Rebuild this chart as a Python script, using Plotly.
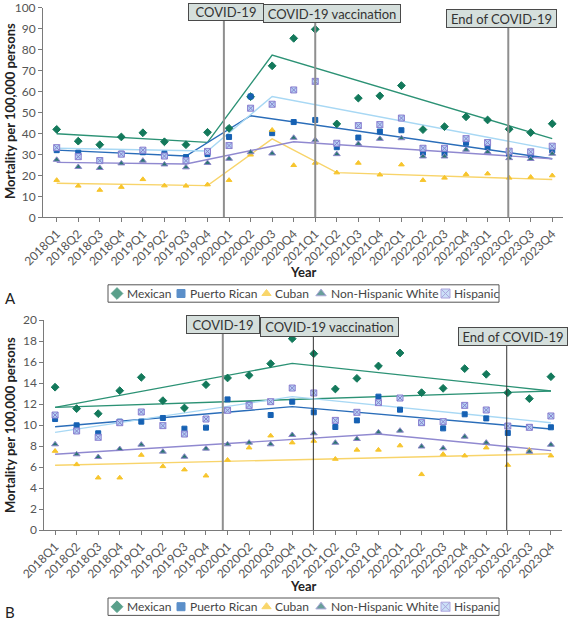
import plotly.graph_objects as go

W, H = 568, 621
FONT = "Lato, 'Open Sans', sans-serif"

QUARTERS = [
    "2018Q1", "2018Q2", "2018Q3", "2018Q4",
    "2019Q1", "2019Q2", "2019Q3", "2019Q4",
    "2020Q1", "2020Q2", "2020Q3", "2020Q4",
    "2021Q1", "2021Q2", "2021Q3", "2021Q4",
    "2022Q1", "2022Q2", "2022Q3", "2022Q4",
    "2023Q1", "2023Q2", "2023Q3", "2023Q4",
]
GROUPS = ["Mexican", "Puerto Rican", "Cuban", "Non-Hispanic White", "Hispanic"]

# Panel A - quarterly mortality per 100,000
MEXICAN_A = [41.9, 36.3, 34.6, 38.3, 40.3, 36.0, 34.6, 40.5, 42.4, 57.5, 72.2, 85.3,
             89.6, 44.5, 56.8, 57.9, 62.8, 41.8, 43.2, 47.9, 46.4, 42.0, 40.4, 44.6]
PUERTO_RICAN_A = [32.0, 30.8, 27.2, 30.3, 31.0, 30.3, 28.7, 30.1, 38.3, 57.6, 40.1, 45.4,
                  46.4, 33.4, 38.0, 40.9, 41.5, 30.8, 30.4, 35.5, 33.4, 30.3, 29.8, 31.9]
CUBAN_A = [17.7, 15.0, 13.0, 14.4, 18.1, 15.1, 15.0, 15.6, 17.7, 29.8, 41.6, 24.8,
           25.9, 21.3, 25.9, 20.3, 25.1, 17.7, 18.8, 20.5, 20.8, 18.8, 19.2, 19.9]
NHW_A = [27.4, 24.0, 23.5, 25.7, 27.0, 25.2, 23.8, 25.9, 27.9, 31.0, 30.4, 37.9,
         36.8, 30.1, 35.0, 37.4, 37.7, 29.0, 29.0, 32.2, 31.1, 28.2, 27.8, 30.3]
HISPANIC_A = [33.2, 28.9, 27.0, 30.1, 32.0, 29.2, 27.0, 31.4, 34.2, 52.0, 53.9, 60.7,
              64.8, 35.3, 43.7, 44.2, 47.3, 32.9, 32.9, 37.5, 35.6, 31.5, 31.2, 33.9]

# Panel B
MEXICAN_B = [13.60, 11.56, 11.08, 13.27, 14.54, 12.32, 11.62, 13.84, 14.48, 14.73, 15.84, 18.22,
             16.79, 13.43, 14.44, 15.62, 16.86, 13.08, 13.49, 15.37, 14.83, 13.08, 12.51, 14.60]
PUERTO_RICAN_B = [10.57, 9.97, 9.21, 10.32, 10.32, 10.67, 9.65, 9.75, 12.44, 11.94, 10.95, 12.22,
                  11.21, 9.81, 10.44, 12.70, 11.46, 10.20, 9.68, 11.02, 10.63, 9.24, 9.80, 9.78]
CUBAN_B = [7.52, 6.25, 4.98, 4.98, 7.14, 6.06, 5.75, 5.17, 6.67, 7.84, 8.98, 8.32,
           8.48, 6.76, 7.63, 7.63, 8.04, 5.30, 7.22, 7.08, 7.84, 6.19, 7.62, 7.08]
NHW_B = [8.16, 7.21, 6.95, 7.71, 8.13, 7.46, 6.98, 7.75, 8.16, 8.32, 8.16, 9.05,
         9.21, 8.31, 8.67, 9.30, 9.46, 7.95, 7.78, 8.89, 8.32, 7.68, 7.46, 8.12]
HISPANIC_B = [10.95, 9.43, 8.83, 10.22, 11.24, 9.94, 9.14, 10.57, 11.40, 11.87, 12.22, 13.52,
              13.05, 10.44, 11.21, 12.13, 12.57, 10.22, 10.32, 11.87, 11.43, 9.90, 9.78, 10.86]

# Joinpoint trend lines: knot quarters and fitted values
MEX_A_TREND_Q = ["2018Q1", "2019Q4", "2020Q3", "2023Q4"]
MEX_A_TREND = [39.8, 35.7, 77.3, 37.5]
PR_A_TREND_Q = ["2018Q1", "2019Q3", "2020Q2", "2023Q4"]
PR_A_TREND = [32.0, 29.2, 48.4, 27.9]
CUB_A_TREND_Q = ["2018Q1", "2019Q4", "2020Q3", "2021Q2", "2023Q4"]
CUB_A_TREND = [16.2, 15.1, 37.4, 21.3, 18.0]
NHW_A_TREND_Q = ["2018Q1", "2019Q3", "2020Q4", "2023Q4"]
NHW_A_TREND = [26.2, 25.4, 36.0, 27.9]
HIS_A_TREND_Q = ["2018Q1", "2019Q4", "2020Q3", "2023Q4"]
HIS_A_TREND = [32.9, 31.6, 57.6, 32.3]

MEX_B_TREND_Q = ["2018Q1", "2020Q4", "2023Q4"]
MEX_B_TREND = [11.68, 15.87, 13.24]
MEX_B_LINEAR_Q = ["2018Q1", "2023Q4"]
MEX_B_LINEAR = [11.68, 13.24]
PR_B_TREND_Q = ["2018Q1", "2020Q4", "2023Q4"]
PR_B_TREND = [9.84, 11.75, 9.62]
CUB_B_TREND_Q = ["2018Q1", "2023Q4"]
CUB_B_TREND = [6.16, 7.26]
NHW_B_TREND_Q = ["2018Q1", "2021Q4", "2023Q4"]
NHW_B_TREND = [7.21, 9.14, 7.56]
HIS_B_TREND_Q = ["2018Q1", "2020Q4", "2023Q4"]
HIS_B_TREND = [9.30, 12.70, 10.22]

EVENTS = ["COVID-19", "COVID-19 vaccination", "End of COVID-19"]

STYLE = {
    "Mexican": dict(symbol="diamond", size=6, color="#13795b", edge="#13795b", trend="#2c9275"),
    "Puerto Rican": dict(symbol="square", size=5, color="#1661b3", edge="#1661b3", trend="#2a6db9"),
    "Cuban": dict(symbol="triangle-up", size=5, color="#f7c52c", edge="#f7c52c", trend="#f8d46a"),
    "Non-Hispanic White": dict(symbol="triangle-up", size=6, color="#2b7772", edge="#8c86c9", trend="#9089d0"),
    "Hispanic": dict(symbol="square-x", size=6, color="#b4d4f4", edge="#8a7fcf", trend="#a8d8f4"),
}

PANELS = [
    dict(
        xa="x", ya="y",
        values=[MEXICAN_A, PUERTO_RICAN_A, CUBAN_A, NHW_A, HISPANIC_A],
        trends=[("Mexican", MEX_A_TREND_Q, MEX_A_TREND), ("Puerto Rican", PR_A_TREND_Q, PR_A_TREND),
                ("Cuban", CUB_A_TREND_Q, CUB_A_TREND), ("Non-Hispanic White", NHW_A_TREND_Q, NHW_A_TREND),
                ("Hispanic", HIS_A_TREND_Q, HIS_A_TREND)],
    ),
    dict(
        xa="x2", ya="y2",
        values=[MEXICAN_B, PUERTO_RICAN_B, CUBAN_B, NHW_B, HISPANIC_B],
        trends=[("Mexican", MEX_B_TREND_Q, MEX_B_TREND), ("Mexican", MEX_B_LINEAR_Q, MEX_B_LINEAR),
                ("Puerto Rican", PR_B_TREND_Q, PR_B_TREND), ("Cuban", CUB_B_TREND_Q, CUB_B_TREND),
                ("Non-Hispanic White", NHW_B_TREND_Q, NHW_B_TREND), ("Hispanic", HIS_B_TREND_Q, HIS_B_TREND)],
    ),
]

fig = go.Figure()

for panel in PANELS:
    # trend lines underneath the points
    for group, qs, vals in panel["trends"]:
        fig.add_trace(go.Scatter(
            x=qs, y=vals, mode="lines", xaxis=panel["xa"], yaxis=panel["ya"],
            line=dict(color=STYLE[group]["trend"], width=1.4), showlegend=False, hoverinfo="skip",
        ))
    for group, vals in zip(GROUPS, panel["values"]):
        st = STYLE[group]
        fig.add_trace(go.Scatter(
            x=QUARTERS, y=vals, mode="markers", name=group, xaxis=panel["xa"], yaxis=panel["ya"],
            marker=dict(symbol=st["symbol"], size=st["size"], color=st["color"],
                        line=dict(color=st["edge"], width=1)),
            showlegend=False,
        ))

# hand-drawn legends on a pixel overlay axis (x3/y3)
LEG_SYMBOL_X = [117, 181, 266.5, 321, 445.5]
LEG_TEXT_X = [125, 188, 273, 329, 452]
LEG_Y = [293.5, 606.7]
for ly in LEG_Y:
    fig.add_trace(go.Scatter(
        x=LEG_SYMBOL_X, y=[ly] * len(GROUPS), mode="markers", xaxis="x3", yaxis="y3",
        marker=dict(symbol=[STYLE[g]["symbol"] for g in GROUPS],
                    size=[STYLE[g]["size"] + 3 for g in GROUPS],
                    color=[STYLE[g]["color"] for g in GROUPS],
                    line=dict(color=[STYLE[g]["edge"] for g in GROUPS], width=1)),
        showlegend=False, hoverinfo="skip",
    ))

axis_common = dict(
    showline=True, linecolor="#7a7a7a", linewidth=1, ticks="outside", ticklen=4,
    tickcolor="#7a7a7a", showgrid=False, zeroline=False, automargin=False,
    ticklabeloverflow="allow",
    tickfont=dict(family=FONT, size=12, color="#555"),
)

fig.update_layout(
    width=W, height=H,
    margin=dict(l=0, r=0, t=0, b=0, autoexpand=False),
    paper_bgcolor="white", plot_bgcolor="rgba(0,0,0,0)",
    font=dict(family=FONT, color="#333"),
    showlegend=False,
    xaxis=dict(axis_common, domain=[43 / W, 563 / W], anchor="y", type="category",
               categoryorder="array", categoryarray=QUARTERS, range=[-0.636, 23.5], tickangle=-45),
    yaxis=dict(axis_common, domain=[1 - 217.3 / H, 1 - 7.5 / H], anchor="x", range=[0, 100], dtick=10),
    xaxis2=dict(axis_common, domain=[44.3 / W, 561.7 / W], anchor="y2", type="category",
                categoryorder="array", categoryarray=QUARTERS, range=[-0.5, 23.5], tickangle=-45),
    yaxis2=dict(axis_common, domain=[1 - 530 / H, 1 - 320 / H], anchor="x2", range=[0, 20], dtick=2),
    xaxis3=dict(domain=[0, 1], range=[0, W], visible=False, anchor="y3", automargin=False),
    yaxis3=dict(domain=[0, 1], range=[H, 0], visible=False, anchor="x3", automargin=False),
)

shapes = []
annotations = []

# event lines + labelled boxes: (line x, line top, box x, box y, box w, box h, line colour, width)
EVENT_LAYOUT = [
    ("x", "y", [
        (7.76, 96, 7.86, 97.85, 72, 14, "#8f8f8f", 2),
        (12.0, 96, 12.78, 97.3, 134, 15, "#8f8f8f", 2),
        (20.96, 93, 20.63, 94.85, 107, 15, "#8f8f8f", 2),
    ]),
    ("x2", "y2", [
        (7.78, 19.5, 7.79, 19.59, 70, 15, "#8f8f8f", 2),
        (11.98, 19.2, 12.75, 19.33, 135, 16, "#333333", 1),
        (20.95, 18.4, 21.24, 18.43, 106, 15, "#333333", 1),
    ]),
]
for xr, yr, items in EVENT_LAYOUT:
    for label, (lx, ltop, bx, by, bw, bh, lc, lw) in zip(EVENTS, items):
        shapes.append(dict(type="line", xref=xr, yref=yr, x0=lx, x1=lx, y0=0, y1=ltop,
                           line=dict(color=lc, width=lw), layer="above"))
        annotations.append(dict(
            text=label, xref=xr, yref=yr, x=bx, y=by, showarrow=False,
            width=bw, height=bh, align="center", valign="middle",
            bgcolor="#d5dfdc", bordercolor="#4a4a4a", borderwidth=1, borderpad=1,
            font=dict(family=FONT, size=13, color="#333"),
        ))

# legend boxes and labels
for ly in LEG_Y:
    shapes.append(dict(type="rect", xref="x3", yref="y3", x0=108, x1=499, y0=ly - 8.7, y1=ly + 8.7,
                       line=dict(color="#555", width=1), fillcolor="rgba(0,0,0,0)"))
    for g, tx in zip(GROUPS, LEG_TEXT_X):
        annotations.append(dict(text=g, xref="x3", yref="y3", x=tx, y=ly, xanchor="left",
                                yanchor="middle", showarrow=False,
                                font=dict(family=FONT, size=12, color="#444")))

# axis titles and panel letters
for ty in [111, 425]:
    annotations.append(dict(text="<b>Mortality per 100,000 persons</b>", xref="x3", yref="y3",
                            x=10, y=ty, textangle=-90, showarrow=False,
                            font=dict(family=FONT, size=13, color="#222")))
for ty in [272, 586]:
    annotations.append(dict(text="<b>Year</b>", xref="x3", yref="y3", x=303, y=ty, showarrow=False,
                            font=dict(family=FONT, size=13, color="#222")))
for letter, ty in [("A", 298), ("B", 612)]:
    annotations.append(dict(text=letter, xref="x3", yref="y3", x=10, y=ty, showarrow=False,
                            font=dict(family=FONT, size=15, color="#222")))

fig.update_layout(shapes=shapes, annotations=annotations)

# the page keeps the browser's default 8px body margin otherwise
fig.write_html("out.html", config={"displayModeBar": False},
               post_script="document.body.style.margin='0';")
